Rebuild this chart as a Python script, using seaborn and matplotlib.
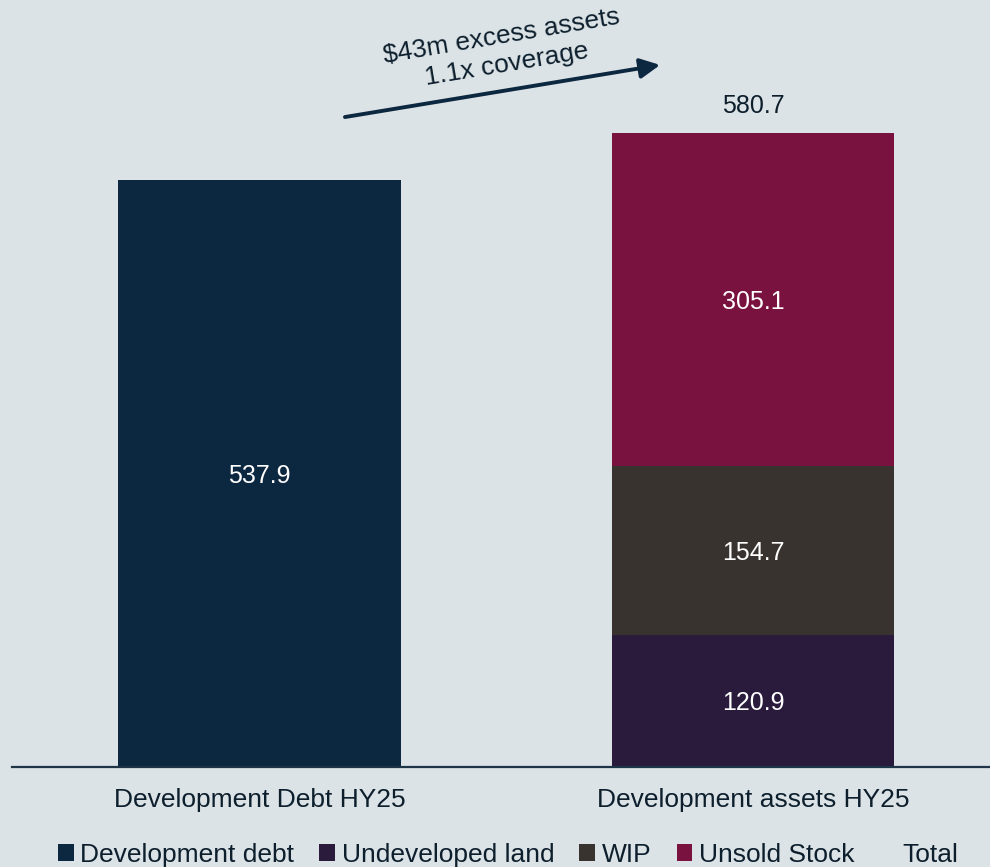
import matplotlib
matplotlib.use("Agg")
import matplotlib.pyplot as plt
import seaborn as sns
import pandas as pd
import numpy as np
from matplotlib.patches import Patch

categories = ["Development Debt HY25", "Development assets HY25"]
debt_values = [537.9, 0.0]
undeveloped_land = [0.0, 120.9]
wip = [0.0, 154.7]
unsold_stock = [0.0, 305.1]
total_assets = 580.7
legend_labels = ["Development debt", "Undeveloped land", "WIP", "Unsold Stock", "Total"]

BG = "#DCE3E6"
TXT = "#0D1F2D"
C_DEBT = "#0C2740"
C_LAND = "#2A1B3D"
C_WIP = "#38332E"
C_STOCK = "#7A1240"

sns.set_theme(style="white")
plt.rcParams["font.family"] = ["Liberation Sans", "DejaVu Sans"]

fig = plt.figure(figsize=(9.9, 8.67), dpi=100, facecolor=BG)
ax = fig.add_axes([12/990, 100/867, 1 - 12/990, 767/867])
ax.set_facecolor(BG)

width = 0.573
# cumulative layers for stacked bars (draw largest first)
cum_land = np.array(undeveloped_land)
cum_wip = cum_land + np.array(wip)
cum_stock = cum_wip + np.array(unsold_stock)

layers = [
    (cum_stock, C_STOCK, 1),
    (cum_wip, C_WIP, 1),
    (cum_land, C_LAND, 1),
    (np.array(debt_values), C_DEBT, 0),
]
for vals, col, idx in layers:
    df = pd.DataFrame({"cat": [categories[idx]], "val": [vals[idx]]})
    sns.barplot(data=df, x="cat", y="val", order=categories, color=col,
                width=width, ax=ax, saturation=1, linewidth=0, errorbar=None)

# segment labels
lab_fs = 18
ax.text(0, debt_values[0] / 2, f"{debt_values[0]:.1f}", ha="center",
        va="center_baseline", color="white", fontsize=lab_fs)
bottoms = [0.0, undeveloped_land[1], undeveloped_land[1] + wip[1]]
segs = [undeveloped_land[1], wip[1], unsold_stock[1]]
for b, s in zip(bottoms, segs):
    ax.text(1, b + s / 2, f"{s:.1f}", ha="center", va="center_baseline",
            color="white", fontsize=lab_fs)
ax.annotate(f"{total_assets:.1f}", (1, total_assets), xytext=(0, 11),
            textcoords="offset points", ha="center", va="bottom", color=TXT,
            fontsize=lab_fs)

ax.set_xlim(-0.5016, 1.48)
ax.set_ylim(0, 702.5)
ax.set_xlabel("")
ax.set_ylabel("")
ax.set_yticks([])
ax.tick_params(axis="x", length=0, pad=15, labelsize=19, labelcolor=TXT)
for sp in ["top", "right", "left"]:
    ax.spines[sp].set_visible(False)
ax.spines["bottom"].set_color("#1E3447")
ax.spines["bottom"].set_linewidth(1.6)

# arrow annotation
ax.annotate("", xy=(0.8116, 643), xytext=(0.173, 595.3),
            arrowprops=dict(arrowstyle="-|>,head_length=1.0,head_width=0.5",
                            color=C_DEBT, lw=2.8, shrinkA=0, shrinkB=0))
ax.text(0.4955, 656, "$43m excess assets\n1.1x coverage", ha="center", va="center",
        rotation=9.5, rotation_mode="anchor", color=TXT, fontsize=19,
        linespacing=1.25)

handles = [Patch(facecolor=C_DEBT, edgecolor="none"),
           Patch(facecolor=C_LAND, edgecolor="none"),
           Patch(facecolor=C_WIP, edgecolor="none"),
           Patch(facecolor=C_STOCK, edgecolor="none"),
           Patch(facecolor="none", edgecolor="none")]
fig.legend(handles, legend_labels, loc="center", bbox_to_anchor=(0.513, 0.014),
           ncol=5, frameon=False, fontsize=19, labelcolor=TXT,
           handlelength=0.6, handleheight=0.6, handletextpad=0.25,
           columnspacing=0.95, borderaxespad=0)

fig.savefig("out.png", dpi=100, facecolor=BG)
